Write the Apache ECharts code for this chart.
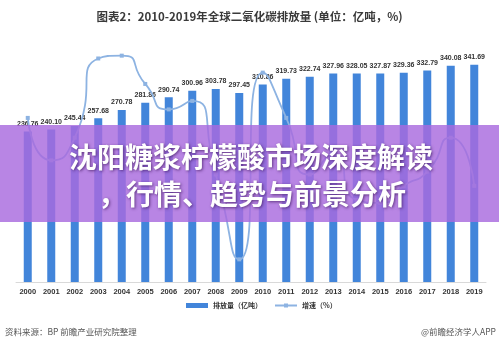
<!DOCTYPE html>
<html>
<head>
<meta charset="utf-8">
<script src="https://cdn.jsdelivr.net/npm/echarts@6/dist/echarts.min.js"></script>
<style>
  html, body { margin: 0; padding: 0; background: #fff; }
  #chart { width: 499px; height: 351px; }
</style>
</head>
<body>
<div id="chart"></div>
<script>
// 年份
const years = ['2000', '2001', '2002', '2003', '2004', '2005', '2006', '2007', '2008', '2009',
  '2010', '2011', '2012', '2013', '2014', '2015', '2016', '2017', '2018', '2019'];
// 排放量（亿吨）
const emissions = [236.76, 240.10, 245.44, 257.68, 270.78, 281.86, 290.74, 300.96, 303.78, 297.45,
  310.86, 319.73, 322.74, 327.96, 328.05, 327.87, 329.36, 332.79, 340.08, 341.69];
// 增速（%）
const growth = [2.9, 1.4, 2.2, 5.0, 5.1, 4.1, 3.2, 3.5, 0.9, -2.1,
  4.5, 2.9, 0.9, 1.6, 0.0, -0.1, 0.5, 1.0, 2.2, 0.5];

const chart = echarts.init(document.getElementById('chart'));

const option = {
  animation: false,
  backgroundColor: '#fff',
  title: {
    text: '图表2：2010-2019年全球二氧化碳排放量 (单位：亿吨，%)',
    left: 'center',
    top: 6,
    textStyle: {
      fontFamily: 'Noto Sans CJK SC',
      fontSize: 11.5,
      fontWeight: 'bold',
      color: '#3a3a3a'
    }
  },
  legend: {
    bottom: 37,
    left: 181,
    itemGap: 12,
    itemWidth: 22,
    itemHeight: 5,
    textStyle: {
      fontFamily: 'Noto Sans CJK SC',
      fontSize: 7,
      fontWeight: 'bold',
      color: '#333'
    },
    data: [
      { name: '排放量（亿吨）', icon: 'rect' },
      { name: '增速（%）' }
    ]
  },
  grid: {
    left: 16,
    right: 13,
    top: 50,
    bottom: 69
  },
  xAxis: {
    type: 'category',
    data: years,
    axisTick: { show: false },
    axisLine: { lineStyle: { color: '#d9d9d9' } },
    axisLabel: {
      fontFamily: 'Liberation Sans',
      fontSize: 7.5,
      fontWeight: 'bold',
      color: '#333',
      margin: 6,
      interval: 0
    }
  },
  yAxis: [
    { type: 'value', min: 0, max: 365, show: false, splitLine: { show: false } },
    { type: 'value', min: -2.9, max: 5.3, show: false, splitLine: { show: false } }
  ],
  series: [
    {
      name: '排放量（亿吨）',
      type: 'bar',
      data: emissions,
      barWidth: 8,
      itemStyle: { color: '#4285da' },
      label: {
        show: true,
        position: 'top',
        distance: 4,
        fontFamily: 'Liberation Sans',
        fontSize: 7,
        fontWeight: 'bold',
        color: '#333',
        formatter: (p) => p.value.toFixed(2)
      }
    },
    {
      name: '增速（%）',
      type: 'line',
      yAxisIndex: 1,
      data: growth,
      smooth: 0.7,
      symbol: 'rect',
      symbolSize: 4,
      lineStyle: { color: '#8db3e2', width: 1.8 },
      itemStyle: { color: '#8db3e2' },
      z: 3
    }
  ],
  graphic: [
    {
      type: 'rect',
      shape: { x: 0, y: 125, width: 499, height: 97 },
      style: { fill: 'rgba(168, 106, 222, 0.82)' },
      z: 100
    },
    {
      type: 'text',
      x: 251,
      y: 157,
      style: {
        text: '沈阳糖浆柠檬酸市场深度解读',
        fontFamily: 'Noto Sans CJK SC',
        fontSize: 28,
        fontWeight: 'bold',
        fill: '#fff',
        align: 'center',
        verticalAlign: 'middle',
        textShadowColor: 'rgba(60, 20, 90, 0.7)',
        textShadowBlur: 3,
        textShadowOffsetX: 1,
        textShadowOffsetY: 1
      },
      z: 101
    },
    {
      type: 'text',
      x: 252,
      y: 194,
      style: {
        text: '，行情、趋势与前景分析',
        fontFamily: 'Noto Sans CJK SC',
        fontSize: 28,
        fontWeight: 'bold',
        fill: '#fff',
        align: 'center',
        verticalAlign: 'middle',
        textShadowColor: 'rgba(60, 20, 90, 0.7)',
        textShadowBlur: 3,
        textShadowOffsetX: 1,
        textShadowOffsetY: 1
      },
      z: 101
    },
    {
      type: 'text',
      left: 5,
      top: 328,
      style: {
        text: '资料来源：BP 前瞻产业研究院整理',
        fontFamily: 'Noto Sans CJK SC',
        fontSize: 8.5,
        fill: '#555'
      }
    },
    {
      type: 'text',
      right: 3,
      top: 328,
      style: {
        text: '@前瞻经济学人APP',
        fontFamily: 'Noto Sans CJK SC',
        fontSize: 8.5,
        fill: '#555'
      }
    }
  ]
};

chart.setOption(option);
</script>
</body>
</html>
